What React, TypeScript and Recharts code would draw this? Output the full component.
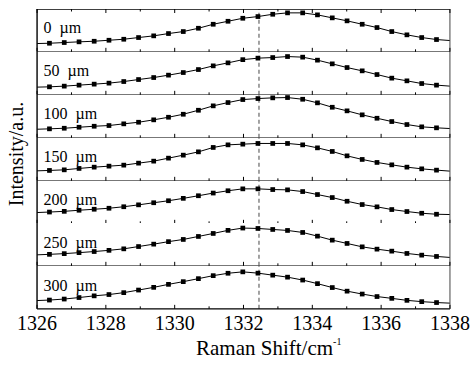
import React from 'react';
import { LineChart, Line, XAxis, YAxis, ReferenceLine } from 'recharts';

// Raman shift of each measured point (cm^-1)
const shifts = [
  1326.36, 1326.79, 1327.22, 1327.66, 1328.09, 1328.52, 1328.95, 1329.39, 1329.82,
  1330.25, 1330.69, 1331.12, 1331.55, 1331.98, 1332.42, 1332.85, 1333.28, 1333.72,
  1334.15, 1334.58, 1335.01, 1335.45, 1335.88, 1336.31, 1336.75, 1337.18, 1337.61,
];

const depthLabels = ['0  µm', '50  µm', '100  µm', '150  µm', '200  µm', '250  µm', '300  µm'];

// intensities (a.u.), one array per depth
const s0 = [8.6, 9.3, 10.0, 10.6, 11.6, 12.6, 14.3, 16.0, 18.3, 20.3, 23.6, 27.6, 30.6, 33.6, 35.3, 37.6, 39.0, 39.0, 37.0, 34.0, 31.0, 27.6, 24.3, 20.3, 17.0, 14.3, 12.3];
const s50 = [8.0, 8.7, 9.7, 10.7, 11.7, 13.3, 15.3, 17.3, 19.7, 22.3, 25.3, 29.0, 32.0, 35.2, 36.7, 37.3, 38.3, 37.7, 34.7, 31.0, 27.3, 24.0, 20.3, 16.7, 14.0, 11.3, 9.7];
const s100 = [9.0, 9.6, 10.6, 11.6, 12.3, 14.0, 15.6, 18.0, 20.6, 23.6, 27.6, 32.0, 35.3, 38.3, 39.3, 40.0, 40.3, 38.6, 35.0, 30.6, 27.0, 23.0, 19.6, 16.3, 13.3, 11.0, 10.0];
const s150 = [10.4, 11.0, 12.4, 13.7, 14.7, 15.7, 17.7, 19.7, 22.7, 25.7, 29.0, 33.4, 36.0, 36.7, 37.4, 37.4, 37.4, 36.0, 33.0, 29.4, 25.0, 21.4, 18.4, 16.0, 13.7, 12.0, 10.7];
const s200 = [11.8, 12.5, 13.6, 14.6, 15.6, 17.1, 19.0, 21.1, 23.1, 25.5, 28.1, 30.8, 33.1, 35.0, 35.0, 34.3, 34.0, 32.3, 29.3, 26.3, 22.6, 19.3, 17.0, 14.3, 12.3, 10.6, 9.6];
const s250 = [11.5, 12.2, 13.2, 14.3, 15.5, 17.0, 19.3, 21.7, 24.2, 26.4, 29.4, 32.4, 35.5, 37.8, 37.4, 36.4, 35.4, 33.4, 29.7, 25.7, 22.4, 19.0, 16.7, 14.7, 12.4, 10.7, 9.4];
const s300 = [8.8, 9.8, 11.3, 13.0, 14.3, 16.2, 18.8, 21.5, 24.5, 27.2, 30.2, 33.2, 35.6, 37.0, 35.7, 33.7, 31.7, 28.8, 25.2, 21.3, 17.7, 14.8, 12.3, 10.5, 8.5, 7.2, 6.3];
const seriesList = [s0, s50, s100, s150, s200, s250, s300];

// values of the connecting line where it meets the left (1326) and right (1338) frame
const edgeLeft = [8.3, 7.7, 8.6, 10.0, 11.3, 11.0, 8.3];
const edgeRight = [11.3, 8.7, 9.3, 9.7, 9.3, 8.4, 5.7];

const xTicks = [1326, 1327, 1328, 1329, 1330, 1331, 1332, 1333, 1334, 1335, 1336, 1337, 1338];
const X_MIN = 1326;
const X_MAX = 1338;
const DASH_X = 1332.45;

const W = 470;
const H = 300 / 7;
const TOP0 = 9.2;
const AXIS_H = 56;
const THIN = 0.01;
const FONT = "'Liberation Serif', 'Times New Roman', serif";

const makeTick = (dir: number, showLabel: boolean) => (props: any) => {
  const { x, y, payload } = props;
  const v = payload.value;
  const major = v % 2 === 0;
  const len = major ? 4 : 2.5;
  return (
    <g>
      <line x1={x} x2={x} y1={y} y2={y + dir * len} stroke="#000" strokeWidth={1} />
      {showLabel && major ? (
        <text x={x} y={y + 21} textAnchor="middle" fontFamily={FONT} fontSize={20} fill="#000">
          {v}
        </text>
      ) : null}
    </g>
  );
};

const SquareDot = (last: number) => (props: any) => {
  const { cx, cy, index } = props;
  if (index === 0 || index === last || cx == null || cy == null) return <g key={`d${index}`} />;
  return <rect key={`d${index}`} x={cx - 2.35} y={cy - 2.35} width={4.7} height={4.7} fill="#000" />;
};

function Panel({ k }: { k: number }) {
  const vals = seriesList[k];
  const data = [
    { x: X_MIN, v: edgeLeft[k] },
    ...shifts.map((x, i) => ({ x, v: vals[i] })),
    { x: X_MAX, v: edgeRight[k] },
  ];
  const isLast = k === seriesList.length - 1;
  const isFirst = k === 0;
  const height = isLast ? H + AXIS_H : H;
  return (
    <div style={{ position: 'absolute', left: 0, top: TOP0 + k * H, width: W, height }}>
      <LineChart width={W} height={height} data={data} margin={{ top: 0, right: 20, bottom: 0, left: 37 }}>
        <XAxis
          type="number"
          dataKey="x"
          domain={[X_MIN, X_MAX]}
          ticks={xTicks}
          allowDataOverflow
          height={isLast ? AXIS_H : THIN}
          tickLine={false}
          tickSize={0}
          tickMargin={0}
          interval={0}
          axisLine={{ stroke: isLast ? '#000' : '#333', strokeWidth: isLast ? 1.4 : 1 }}
          tick={makeTick(-1, isLast)}
        />
        {isFirst ? (
          <XAxis
            xAxisId="top"
            orientation="top"
            type="number"
            dataKey="x"
            domain={[X_MIN, X_MAX]}
            ticks={xTicks}
            allowDataOverflow
            height={THIN}
            tickLine={false}
            tickSize={0}
            tickMargin={0}
            interval={0}
            axisLine={{ stroke: '#000', strokeWidth: 1.4 }}
            tick={makeTick(1, false)}
          />
        ) : null}
        <YAxis
          type="number"
          domain={[0, H]}
          width={THIN}
          tick={false}
          tickLine={false}
          axisLine={{ stroke: '#000', strokeWidth: 1.4 }}
        />
        <YAxis
          yAxisId="right"
          orientation="right"
          type="number"
          domain={[0, H]}
          width={THIN}
          tick={false}
          tickLine={false}
          axisLine={{ stroke: '#444', strokeWidth: 1 }}
        />
        <ReferenceLine x={DASH_X} stroke="#666" strokeWidth={1.2} strokeDasharray="4 3" />
        <Line
          type="linear"
          dataKey="v"
          stroke="#000"
          strokeWidth={1}
          dot={SquareDot(data.length - 1)}
          activeDot={false}
          isAnimationActive={false}
        />
      </LineChart>
    </div>
  );
}

export default function App() {
  return (
    <div style={{ position: 'absolute', left: 0, top: 0, width: W, height: 365, background: '#fff' }}>
      {seriesList.map((_, k) => (
        <Panel key={k} k={k} />
      ))}
      <svg width={W} height={365} style={{ position: 'absolute', left: 0, top: 0, pointerEvents: 'none' }}>
        {depthLabels.map((lab, k) => (
          <text
            key={lab}
            x={43.5}
            y={TOP0 + k * H + 24.2}
            fontFamily={FONT}
            fontSize={16}
            fill="#000"
            style={{ whiteSpace: 'pre' }}
          >
            {lab}
          </text>
        ))}
        <text
          x={23}
          y={154}
          transform="rotate(-90 23 154)"
          textAnchor="middle"
          fontFamily={FONT}
          fontSize={20}
          fill="#000"
        >
          Intensity/a.u.
        </text>
        <text x={196} y={355} fontFamily={FONT} fontSize={21} fill="#000">
          Raman Shift/cm
          <tspan fontSize={10} dy={-10}>-1</tspan>
        </text>
      </svg>
    </div>
  );
}
